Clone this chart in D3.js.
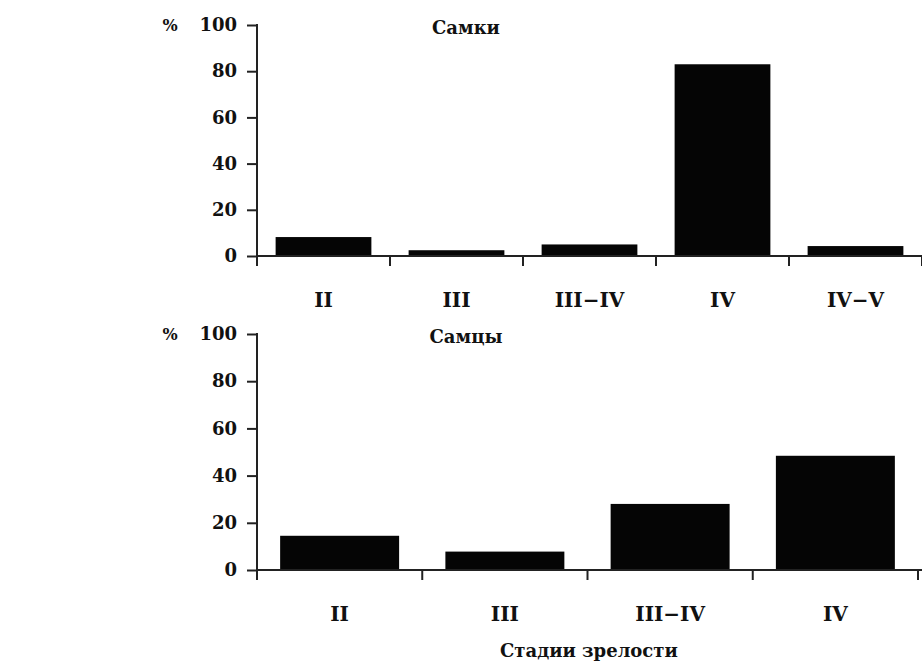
<!DOCTYPE html>
<html>
<head>
<meta charset="utf-8">
<script src="https://cdn.jsdelivr.net/npm/d3@7"></script>
<style>
  body { margin: 0; background: #fff; }
  svg { display: block; }
  text { font-family: "DejaVu Serif", serif; font-weight: bold; fill: #111; }
</style>
</head>
<body>
<svg></svg>

<script>

  // values, in %
  var femaleStages = ["II", "III", "III\u2212IV", "IV", "IV\u2212V"];
  var femaleValues = [8.2, 2.5, 5, 83, 4.3];

  var maleStages = ["II", "III", "III\u2212IV", "IV"];
  var maleValues = [14.5, 7.8, 28, 48.4];

  var yTicks = [0, 20, 40, 60, 80, 100];

  var svg = d3.select("svg").attr("width", 922).attr("height", 663);

  var left = 257, right = 922;

  var drawPanel = function(stages, values, title, top, bottom, rightEnd) {
    var g = svg.append("g");

    var x = d3.scaleBand()
      .domain(stages)
      .range([left, rightEnd])
      .paddingInner(0.28)
      .paddingOuter(0.14);

    var y = d3.scaleLinear().domain([0, 100]).range([bottom, top]);

    // bars
    g.selectAll("rect")
      .data(values)
      .enter()
      .append("rect")
      .attr("x", function(d, i) { return x(stages[i]); })
      .attr("y", function(d) { return y(d); })
      .attr("width", x.bandwidth())
      .attr("height", function(d) { return y(0) - y(d); })
      .attr("fill", "#050505");

    // y axis (domain drawn by hand so it runs a bit under the baseline)
    var yAxis = g.append("g")
      .attr("transform", "translate(" + left + ",0)")
      .call(d3.axisLeft(y).tickValues(yTicks).tickSize(10).tickPadding(10));
    yAxis.select(".domain").remove();
    yAxis.selectAll("line").attr("stroke", "#222").attr("stroke-width", 2);
    yAxis.selectAll("text")
      .style("font-family", "DejaVu Serif")
      .style("font-weight", "bold")
      .style("font-size", "18px")
      .attr("fill", "#111");

    g.append("line")
      .attr("x1", left).attr("x2", left)
      .attr("y1", y(100) - 1).attr("y2", y(0) + 10)
      .attr("stroke", "#222").attr("stroke-width", 2);

    // x axis labels
    var xAxis = g.append("g")
      .attr("transform", "translate(0," + y(0) + ")")
      .call(d3.axisBottom(x).tickSize(0).tickPadding(37));
    xAxis.select(".domain").remove();
    xAxis.selectAll("text")
      .style("font-family", "DejaVu Serif")
      .style("font-weight", "bold")
      .style("font-size", "20px")
      .attr("fill", "#111");

    // baseline + ticks at band boundaries
    g.append("line")
      .attr("x1", left).attr("x2", right)
      .attr("y1", y(0)).attr("y2", y(0))
      .attr("stroke", "#222").attr("stroke-width", 2);

    var bounds = stages.map(function(s) { return x(s) + x.bandwidth() + x.step() * 0.14; });
    g.selectAll(".bnd")
      .data(bounds)
      .enter()
      .append("line")
      .attr("class", "bnd")
      .attr("x1", function(d) { return d; })
      .attr("x2", function(d) { return d; })
      .attr("y1", y(0)).attr("y2", y(0) + 10)
      .attr("stroke", "#222").attr("stroke-width", 2);

    g.append("text")
      .attr("x", 170).attr("y", y(100) + 6)
      .attr("text-anchor", "middle")
      .style("font-size", "16px")
      .text("%");

    g.append("text")
      .attr("x", 466).attr("y", y(100) + 9)
      .attr("text-anchor", "middle")
      .style("font-size", "18px")
      .text(title);
  }

  drawPanel(femaleStages, femaleValues, "Самки", 25, 256, 922);
  drawPanel(maleStages, maleValues, "Самцы", 334, 570, 918);

  svg.append("text")
    .attr("x", 500).attr("y", 657)
    .style("font-size", "18px")
    .text("Стадии зрелости");

</script>
</body>
</html>
